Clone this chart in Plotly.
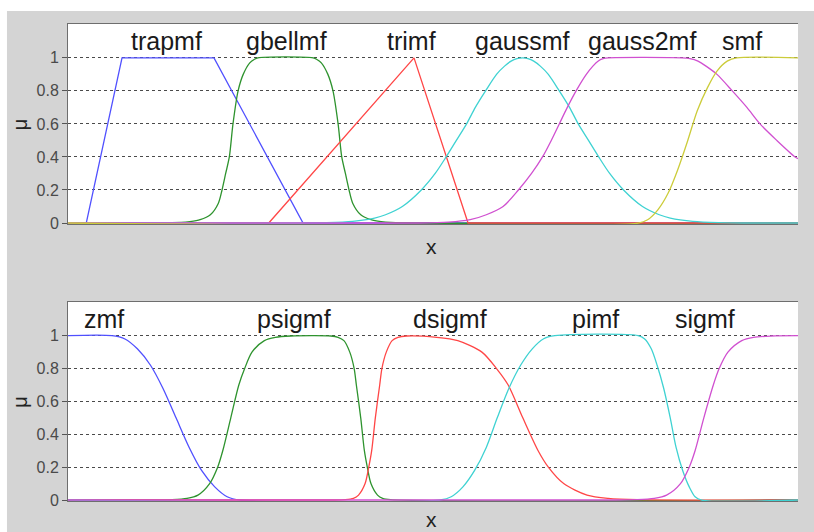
import plotly.graph_objects as go

# ---- upper panel: trapmf, gbellmf, trimf, gaussmf, gauss2mf, smf ----
trap_x = [0, 0.25, 0.74, 2.0, 3.22, 10]
trap_y = [0, 0, 1, 1, 0, 0]

gbell_x = [0, 1.55, 1.67, 1.81, 1.95, 2.06, 2.11, 2.16, 2.21, 2.26, 2.33, 2.40, 2.49, 2.55, 2.60,
           3.36, 3.41, 3.47, 3.56, 3.63, 3.70, 3.75, 3.80, 3.85, 3.90, 4.01, 4.15, 4.29, 4.42, 10]
gbell_y = [0, 0.003, 0.008, 0.02, 0.05, 0.12, 0.2, 0.3, 0.4, 0.6, 0.8, 0.9, 0.97, 0.99, 1,
           1, 0.99, 0.97, 0.9, 0.8, 0.6, 0.4, 0.3, 0.2, 0.12, 0.05, 0.02, 0.008, 0.003, 0]

tri_x = [0, 2.75, 4.74, 5.48, 10]
tri_y = [0, 0, 1, 0, 0]

gauss_x = [0, 3.20, 3.54, 3.90, 4.20, 4.35, 4.58, 4.84, 5.03, 5.18, 5.32, 5.46, 5.58, 5.72, 5.87,
           5.98, 6.07, 6.15, 6.23, 6.30, 6.38, 6.47, 6.58, 6.73, 6.87, 6.99, 7.13, 7.27, 7.42,
           7.61, 7.87, 8.10, 8.25, 8.56, 8.91, 9.25, 10]
gauss_y = [0, 0, 0.002, 0.01, 0.03, 0.05, 0.1, 0.2, 0.3, 0.4, 0.5, 0.6, 0.7, 0.8, 0.9,
           0.95, 0.98, 0.995, 1, 0.995, 0.98, 0.95, 0.9, 0.8, 0.7, 0.6, 0.5, 0.4, 0.3,
           0.2, 0.1, 0.05, 0.03, 0.01, 0.002, 0, 0]

gauss2_x = [0, 4.80, 5.21, 5.51, 5.73, 5.96, 6.17, 6.35, 6.50, 6.62, 6.73, 6.84, 6.96, 7.10,
            7.19, 7.26, 7.33, 7.40, 8.41, 8.52, 8.63, 8.74, 8.89, 9.10, 9.30, 9.48, 9.71, 9.96, 10]
gauss2_y = [0, 0, 0.005, 0.02, 0.05, 0.1, 0.2, 0.3, 0.4, 0.5, 0.6, 0.7, 0.8, 0.9,
            0.95, 0.98, 0.995, 1, 1, 0.995, 0.98, 0.95, 0.9, 0.8, 0.7, 0.6, 0.5, 0.4, 0.39]

s_x = [0, 7.81, 7.94, 8.08, 8.22, 8.35, 8.49, 8.62, 8.76, 8.89, 9.03, 9.16, 10]
s_y = [0, 0, 0.02, 0.08, 0.18, 0.32, 0.5, 0.68, 0.82, 0.92, 0.98, 1, 1]

# ---- lower panel: zmf, psigmf, dsigmf, pimf, sigmf ----
z_x = [0, 0.60, 0.78, 0.95, 1.13, 1.30, 1.48, 1.66, 1.83, 2.01, 2.18, 2.36, 10]
z_y = [1, 1, 0.98, 0.92, 0.82, 0.68, 0.5, 0.32, 0.18, 0.08, 0.02, 0, 0]

psig_x = [0, 1.20, 1.42, 1.63, 1.78, 1.94, 2.05, 2.12, 2.23, 2.34, 2.42, 2.52, 2.69, 2.84, 3.05,
          3.60, 3.70, 3.78, 3.86, 3.92, 3.95, 4.01, 4.06, 4.10, 4.15, 4.24, 4.31, 4.42, 10]
psig_y = [0, 0, 0.002, 0.01, 0.03, 0.1, 0.2, 0.3, 0.5, 0.7, 0.8, 0.9, 0.97, 0.99, 0.998,
          0.998, 0.99, 0.97, 0.9, 0.8, 0.7, 0.5, 0.3, 0.2, 0.1, 0.03, 0.01, 0.002, 0]

dsig_x = [0, 3.60, 3.80, 3.91, 3.98, 4.07, 4.12, 4.16, 4.21, 4.27, 4.30, 4.36, 4.44, 4.52, 4.64,
          5.05, 5.34, 5.67, 5.87, 6.03, 6.23, 6.44, 6.58, 6.79, 7.11, 7.40, 7.81, 10]
dsig_y = [0, 0, 0.002, 0.01, 0.03, 0.1, 0.2, 0.3, 0.5, 0.7, 0.8, 0.9, 0.97, 0.99, 0.998,
          0.99, 0.97, 0.9, 0.8, 0.7, 0.5, 0.3, 0.2, 0.1, 0.03, 0.01, 0.002, 0]

pi_x = [0, 5.10, 5.25, 5.41, 5.57, 5.73, 5.88, 6.04, 6.20, 6.36, 6.51, 6.67,
        7.81, 7.90, 7.99, 8.07, 8.16, 8.25, 8.33, 8.42, 8.51, 8.59, 8.68, 10]
pi_y = [0, 0, 0.02, 0.08, 0.18, 0.32, 0.5, 0.68, 0.82, 0.92, 0.98, 1,
        1, 0.98, 0.92, 0.82, 0.68, 0.5, 0.32, 0.18, 0.08, 0.02, 0, 0]

sig_x = [0, 7.40, 7.79, 8.03, 8.20, 8.39, 8.51, 8.59, 8.71, 8.84, 8.92, 9.04, 9.23, 9.39, 9.63, 10]
sig_y = [0, 0, 0.002, 0.01, 0.03, 0.1, 0.2, 0.3, 0.5, 0.7, 0.8, 0.9, 0.97, 0.99, 0.998, 1]

# label positions (x) at the centre of each function
top_names = ["trapmf", "gbellmf", "trimf", "gaussmf", "gauss2mf", "smf"]
top_label_x = [1.35, 2.99, 4.71, 6.22, 7.86, 9.23]
bot_names = ["zmf", "psigmf", "dsigmf", "pimf", "sigmf"]
bot_label_x = [0.49, 3.10, 5.23, 7.23, 8.73]

tick_vals = [0, 0.2, 0.4, 0.6, 0.8, 1]
tick_text = ["0", "0.2", "0.4", "0.6", "0.8", "1"]

colors = ["#5050ff", "#2e932e", "#ff4646", "#3fd2d2", "#d050d0", "#cccc3a"]

# piecewise-linear functions keep straight segments, the rest are drawn smooth
top_series = [(trap_x, trap_y, "linear"), (gbell_x, gbell_y, "spline"), (tri_x, tri_y, "linear"),
              (gauss_x, gauss_y, "spline"), (gauss2_x, gauss2_y, "spline"), (s_x, s_y, "spline")]
bot_series = [(z_x, z_y, "spline"), (psig_x, psig_y, "spline"), (dsig_x, dsig_y, "spline"),
              (pi_x, pi_y, "spline"), (sig_x, sig_y, "spline")]


def line_style(color, shape):
    style = dict(color=color, width=1.3, shape=shape)
    if shape == "spline":
        style["smoothing"] = 0.8
    return style


fig = go.Figure()
for (xs, ys, shp), c in zip(top_series, colors):
    fig.add_trace(go.Scatter(x=xs, y=ys, mode="lines", line=line_style(c, shp),
                             xaxis="x", yaxis="y", showlegend=False, hoverinfo="skip"))
for (xs, ys, shp), c in zip(bot_series, colors):
    fig.add_trace(go.Scatter(x=xs, y=ys, mode="lines", line=line_style(c, shp),
                             xaxis="x2", yaxis="y2", showlegend=False, hoverinfo="skip"))

FONT = "Liberation Sans, Arial, sans-serif"
AXIS_GREY = "#6e6e6e"
Y_RANGE = [-0.006, 1.205]

xcommon = dict(range=[0, 10], showgrid=False, zeroline=False, showticklabels=False,
               ticks="", showline=True, linecolor=AXIS_GREY, linewidth=1, mirror=True)
ycommon = dict(range=Y_RANGE, tickvals=tick_vals, ticktext=tick_text,
               showgrid=True, gridcolor="#4a4a4a", gridwidth=1, griddash="3px,3px",
               zeroline=False, ticks="outside", ticklen=5, tickcolor="#555555",
               showline=True, linecolor=AXIS_GREY, linewidth=1,
               tickfont=dict(family=FONT, size=16, color="#4a4a4a"))
# right-hand tick marks pointing inward
yright = dict(range=Y_RANGE, tickvals=tick_vals, showticklabels=False, showgrid=False,
              zeroline=False, ticks="inside", ticklen=9, tickcolor="#555555",
              showline=False, side="right")

fig.update_layout(
    width=814, height=532,
    margin=dict(l=68, r=16, t=24, b=31),
    paper_bgcolor="#d4d4d4", plot_bgcolor="#ffffff",
    xaxis=dict(domain=[0, 1], anchor="y", **xcommon),
    yaxis=dict(domain=[0.5807, 1.0], anchor="x", **ycommon),
    xaxis2=dict(domain=[0, 1], anchor="y2", **xcommon),
    yaxis2=dict(domain=[0.0, 0.4172], anchor="x2", **ycommon),
    yaxis3=dict(overlaying="y", anchor="x", **yright),
    yaxis4=dict(overlaying="y2", anchor="x2", **yright),
)

annotations = []
for name, lx in zip(top_names, top_label_x):
    annotations.append(dict(x=lx, y=1.1, xref="x", yref="y", text=name, showarrow=False,
                            font=dict(family=FONT, size=25, color="#1a1a1a"),
                            xanchor="center", yanchor="middle"))
for name, lx in zip(bot_names, bot_label_x):
    annotations.append(dict(x=lx, y=1.1, xref="x2", yref="y2", text=name, showarrow=False,
                            font=dict(family=FONT, size=25, color="#1a1a1a"),
                            xanchor="center", yanchor="middle"))
# axis titles
for ty in [0.5325, -0.038]:
    annotations.append(dict(x=0.4986, y=ty, xref="paper", yref="paper", text="x",
                            showarrow=False, font=dict(family=FONT, size=21, color="#222222"),
                            xanchor="center", yanchor="middle"))
for ty in [0.790, 0.208]:
    annotations.append(dict(x=-0.0658, y=ty, xref="paper", yref="paper", text="μ",
                            showarrow=False, textangle=-90,
                            font=dict(family=FONT, size=20, color="#222222"),
                            xanchor="center", yanchor="middle"))
fig.update_layout(annotations=annotations)

# white border strips along the top and left edges of the figure
fig.add_shape(type="rect", xref="paper", yref="paper", x0=-0.2, x1=1.2, y0=1.0273, y1=1.2,
              fillcolor="#ffffff", line=dict(width=0), layer="above")
fig.add_shape(type="rect", xref="paper", yref="paper", x0=-0.2, x1=-0.0836, y0=-0.2, y1=1.2,
              fillcolor="#ffffff", line=dict(width=0), layer="above")

fig.write_html("out.html")
